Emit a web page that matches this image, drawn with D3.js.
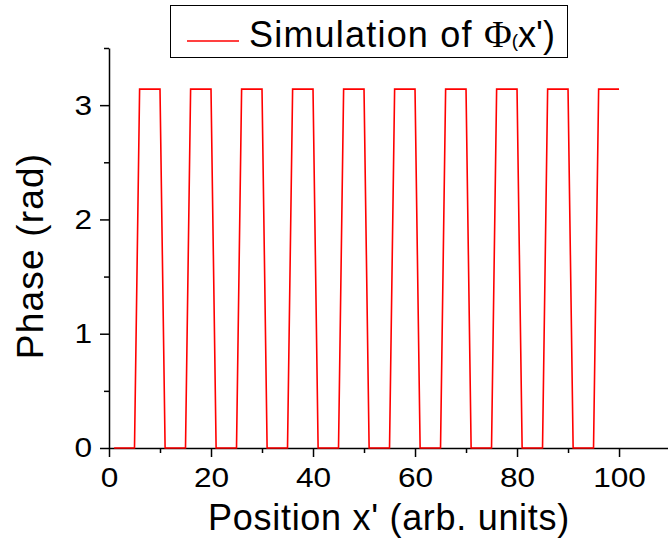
<!DOCTYPE html>
<html>
<head>
<meta charset="utf-8">
<script src="https://cdn.jsdelivr.net/npm/d3@7"></script>
<style>
  body { margin: 0; background: #fff; }
  text { font-family: "Liberation Sans", Arial, sans-serif; fill: #000; }
</style>
</head>
<body>
<div id="chart"></div>
<script>
var svgWidth = 668
var svgHeight = 544

// corner points of the simulated phase profile (x', rad)
var posX = [1, 5, 6, 10, 11, 15, 16, 20, 21, 25, 26, 30, 31, 35, 36, 40, 41, 45, 46, 50,
            51, 55, 56, 60, 61, 65, 66, 70, 71, 75, 76, 80, 81, 85, 86, 90, 91, 95, 96, 100]
var phase = [0, 0, 3.14, 3.14, 0, 0, 3.14, 3.14, 0, 0, 3.14, 3.14, 0, 0, 3.14, 3.14, 0, 0, 3.14, 3.14,
             0, 0, 3.14, 3.14, 0, 0, 3.14, 3.14, 0, 0, 3.14, 3.14, 0, 0, 3.14, 3.14, 0, 0, 3.14, 3.14]
var xTicks = [0, 20, 40, 60, 80, 100]
var xMinor = [10, 30, 50, 70, 90]
var yTicks = [0, 1, 2, 3]
var yMinor = [0.5, 1.5, 2.5, 3.5]

var left = 109, bottom = 448
var stretch = 1.13   // tick labels in the original are a little wider than Liberation Sans

var svg = d3.select("#chart")
  .append("svg")
  .attr("width", svgWidth)
  .attr("height", svgHeight)

var x = d3.scaleLinear().domain([0, 109.6]).range([left, 668])
var y = d3.scaleLinear().domain([0, 3.5]).range([bottom, 48])

// minor ticks first
svg.append("g")
  .attr("transform", `translate(0, ${bottom})`)
  .call(d3.axisBottom(x).tickValues(xMinor).tickSize(5).tickFormat(""))
  .call(g => g.select(".domain").remove())
svg.append("g")
  .attr("transform", `translate(${left}, 0)`)
  .call(d3.axisLeft(y).tickValues(yMinor).tickSize(5).tickFormat(""))
  .call(g => g.select(".domain").remove())

var xAxis = svg.append("g")
  .attr("transform", `translate(0, ${bottom})`)
  .call(d3.axisBottom(x).tickValues(xTicks).tickFormat(d3.format("d"))
    .tickSize(9).tickSizeOuter(0).tickPadding(10))
xAxis.selectAll("text")
  .attr("font-size", 28).attr("font-family", "Liberation Sans")
  .attr("transform", `scale(${stretch},1)`)

var yAxis = svg.append("g")
  .attr("transform", `translate(${left}, 0)`)
  .call(d3.axisLeft(y).tickValues(yTicks).tickFormat(d3.format("d"))
    .tickSize(9).tickSizeOuter(0).tickPadding(8))
yAxis.selectAll("text")
  .attr("font-size", 28).attr("font-family", "Liberation Sans")
  .attr("x", -17 / stretch)
  .attr("transform", `scale(${stretch},1)`)

svg.selectAll(".domain, .tick line").attr("stroke", "#000").attr("stroke-width", 1.5)

var line = d3.line()
  .x((d, i) => x(posX[i]))
  .y(d => y(d))

svg.append("path")
  .datum(phase)
  .attr("d", line)
  .attr("fill", "none")
  .attr("stroke", "#ff0000")
  .attr("stroke-width", 1.6)

// axis titles
svg.append("text")
  .attr("x", 389)
  .attr("y", 530)
  .attr("text-anchor", "middle")
  .attr("font-size", 36)
  .attr("letter-spacing", 0.7)
  .text("Position x' (arb. units)")

svg.append("text")
  .attr("transform", "translate(43, 256) rotate(-90)")
  .attr("text-anchor", "middle")
  .attr("font-size", 37)
  .attr("letter-spacing", 1.2)
  .text("Phase (rad)")

// legend
svg.append("rect")
  .attr("x", 170.5).attr("y", 5.5)
  .attr("width", 397).attr("height", 52)
  .attr("fill", "none").attr("stroke", "#000").attr("stroke-width", 1)

svg.append("line")
  .attr("x1", 187).attr("x2", 239)
  .attr("y1", 41).attr("y2", 41)
  .attr("stroke", "#ff0000").attr("stroke-width", 1.6)

var leg = svg.append("text")
  .attr("x", 249).attr("y", 47)
  .attr("font-size", 36)
leg.append("tspan").attr("letter-spacing", 1.2).text("Simulation of ")
leg.append("tspan").attr("font-family", "Liberation Serif").attr("font-size", 38).text("\u03A6")
leg.append("tspan").attr("font-size", 19).text("(")
leg.append("tspan").text("x')")
</script>
</body>
</html>
